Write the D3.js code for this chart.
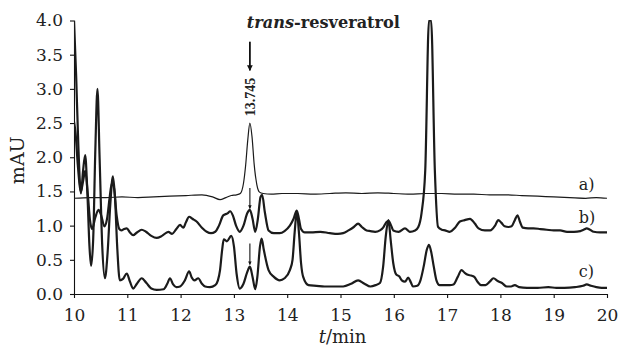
<!DOCTYPE html>
<html>
<head>
<meta charset="utf-8">
<script src="https://cdn.jsdelivr.net/npm/d3@7"></script>
<style>
  html, body { margin: 0; padding: 0; background: #fff; }
  .chart text { font-family: 'DejaVu Serif', serif; fill: #222; }
</style>
</head>
<body>
<div class="chart"></div>
<script>
// retention times (min) and absorbance (mAU)
const timesA = [10.00, 10.30, 10.60, 10.90, 11.20, 11.50, 11.80, 12.10, 12.40, 12.60, 12.74, 12.85, 12.95, 13.05, 13.12,
  13.18, 13.22, 13.26, 13.30, 13.34, 13.38, 13.43, 13.48, 13.55, 13.70, 13.90, 14.20, 14.50, 14.80, 15.10,
  15.40, 15.70, 16.00, 16.30, 16.60, 16.90, 17.20, 17.50, 17.80, 18.10, 18.40, 18.70, 19.00, 19.30, 19.60, 19.80, 20.00];
const valuesA = [1.40, 1.41, 1.41, 1.42, 1.41, 1.42, 1.43, 1.44, 1.45, 1.42, 1.38, 1.41, 1.44, 1.45, 1.47,
  1.62, 1.88, 2.25, 2.50, 2.30, 1.90, 1.60, 1.49, 1.47, 1.46, 1.47, 1.47, 1.46, 1.47, 1.48,
  1.47, 1.48, 1.47, 1.46, 1.47, 1.47, 1.46, 1.46, 1.45, 1.45, 1.44, 1.43, 1.42, 1.41, 1.40, 1.41, 1.40];

const timesB = [10.00, 10.03, 10.07, 10.13, 10.17, 10.21, 10.26, 10.30, 10.34, 10.40, 10.46, 10.51, 10.57, 10.62, 10.67,
  10.71, 10.75, 10.80, 10.85, 10.89, 10.94, 10.99, 11.05, 11.11, 11.18, 11.27, 11.35, 11.45, 11.55, 11.65,
  11.77, 11.84, 11.92, 11.99, 12.05, 12.10, 12.16, 12.22, 12.30, 12.40, 12.49, 12.57, 12.65, 12.72, 12.80,
  12.88, 12.93, 12.98, 13.04, 13.11, 13.18, 13.25, 13.30, 13.35, 13.40, 13.45, 13.50, 13.53, 13.58, 13.65,
  13.75, 13.86, 13.95, 14.05, 14.12, 14.18, 14.22, 14.26, 14.33, 14.45, 14.62, 14.80, 14.95, 15.05, 15.15,
  15.25, 15.33, 15.40, 15.49, 15.56, 15.65, 15.74, 15.80, 15.86, 15.90, 15.95, 15.99, 16.09, 16.21, 16.30,
  16.40, 16.46, 16.52, 16.59, 16.66, 16.70, 16.77, 16.83, 16.90, 16.96, 17.05, 17.15, 17.24, 17.33, 17.43,
  17.52, 17.59, 17.71, 17.81, 17.90, 17.96, 18.02, 18.08, 18.15, 18.21, 18.27, 18.32, 18.37, 18.42, 18.52,
  18.62, 18.75, 18.87, 19.00, 19.12, 19.25, 19.38, 19.50, 19.56, 19.62, 19.68, 19.75, 19.87, 20.00];
const valuesB = [2.52, 2.35, 1.90, 1.50, 1.65, 1.80, 1.45, 1.08, 0.95, 1.12, 1.23, 1.15, 0.99, 1.10, 1.42,
  1.62, 1.55, 1.15, 0.95, 0.93, 0.95, 0.96, 0.90, 0.86, 0.90, 0.94, 0.91, 0.85, 0.82, 0.85,
  0.91, 0.88, 0.95, 1.01, 0.97, 1.05, 1.13, 1.10, 1.06, 0.97, 0.91, 0.89, 0.91, 1.00, 1.15,
  1.18, 1.21, 1.15, 1.00, 0.91, 1.00, 1.18, 1.23, 1.10, 0.91, 1.10, 1.42, 1.45, 1.20, 0.93,
  0.89, 0.89, 0.92, 1.00, 1.10, 1.22, 1.10, 0.95, 0.90, 0.90, 0.91, 0.89, 0.88, 0.89, 0.93,
  0.98, 1.03, 0.98, 0.93, 0.92, 0.91, 0.93, 0.97, 1.05, 1.07, 1.00, 0.93, 0.91, 0.96, 0.91,
  0.93, 0.98, 1.18, 1.81, 4.00, 4.00, 1.81, 0.98, 0.94, 0.93, 0.91, 0.97, 1.06, 1.08, 1.10,
  1.03, 0.96, 0.93, 0.93, 1.00, 1.08, 1.04, 0.99, 0.98, 0.99, 1.08, 1.15, 1.05, 0.97, 0.96,
  0.96, 0.95, 0.94, 0.93, 0.93, 0.91, 0.91, 0.92, 0.94, 0.96, 0.94, 0.91, 0.90, 0.90];

const timesC = [10.00, 10.04, 10.08, 10.13, 10.17, 10.21, 10.25, 10.29, 10.32, 10.36, 10.40, 10.44, 10.48, 10.53, 10.58,
  10.63, 10.68, 10.73, 10.77, 10.81, 10.86, 10.92, 10.99, 11.05, 11.11, 11.18, 11.27, 11.36, 11.45, 11.55,
  11.68, 11.75, 11.80, 11.86, 11.92, 11.99, 12.08, 12.16, 12.21, 12.26, 12.33, 12.40, 12.46, 12.55, 12.65,
  12.70, 12.74, 12.78, 12.81, 12.87, 12.95, 13.00, 13.05, 13.11, 13.18, 13.25, 13.30, 13.35, 13.40, 13.44,
  13.49, 13.52, 13.56, 13.65, 13.75, 13.86, 13.95, 14.05, 14.10, 14.14, 14.18, 14.22, 14.26, 14.30, 14.40,
  14.55, 14.70, 14.85, 15.05, 15.20, 15.33, 15.45, 15.56, 15.66, 15.74, 15.80, 15.85, 15.90, 15.94, 15.99,
  16.05, 16.10, 16.15, 16.21, 16.27, 16.32, 16.36, 16.44, 16.50, 16.56, 16.62, 16.66, 16.70, 16.75, 16.80,
  16.86, 16.95, 17.05, 17.12, 17.20, 17.27, 17.33, 17.39, 17.45, 17.51, 17.57, 17.64, 17.72, 17.80, 17.87,
  17.95, 18.03, 18.12, 18.20, 18.27, 18.35, 18.50, 18.70, 18.90, 19.05, 19.20, 19.40, 19.55, 19.62, 19.70,
  19.80, 19.90, 20.00];
const valuesC = [4.00, 3.20, 2.20, 1.47, 1.80, 2.03, 1.50, 0.70, 0.41, 0.80, 2.10, 3.00, 2.00, 0.70, 0.23,
  0.60, 1.30, 1.72, 1.40, 0.70, 0.20, 0.22, 0.30, 0.18, 0.08, 0.15, 0.23, 0.16, 0.08, 0.06,
  0.07, 0.15, 0.23, 0.14, 0.10, 0.11, 0.20, 0.33, 0.24, 0.20, 0.23, 0.15, 0.11, 0.10, 0.13,
  0.20, 0.35, 0.65, 0.80, 0.77, 0.85, 0.70, 0.30, 0.08, 0.15, 0.32, 0.40, 0.25, 0.07, 0.25,
  0.70, 0.81, 0.65, 0.35, 0.25, 0.20, 0.23, 0.35, 0.50, 0.90, 1.20, 0.90, 0.45, 0.25, 0.13,
  0.12, 0.11, 0.11, 0.11, 0.15, 0.20, 0.15, 0.11, 0.13, 0.16, 0.40, 0.85, 1.08, 0.80, 0.45,
  0.28, 0.26, 0.20, 0.18, 0.24, 0.17, 0.11, 0.12, 0.20, 0.40, 0.65, 0.72, 0.62, 0.40, 0.20,
  0.13, 0.13, 0.13, 0.14, 0.25, 0.35, 0.31, 0.28, 0.27, 0.25, 0.18, 0.13, 0.13, 0.18, 0.23,
  0.19, 0.16, 0.11, 0.11, 0.13, 0.10, 0.09, 0.09, 0.10, 0.09, 0.09, 0.10, 0.12, 0.14, 0.12,
  0.10, 0.09, 0.09];

const xTicks = [10, 11, 12, 13, 14, 15, 16, 17, 18, 19, 20];
const yTicks = [0, 0.5, 1, 1.5, 2, 2.5, 3, 3.5, 4];
const seriesLabels = ['a)', 'b)', 'c)'];
const labelLevels = [1.52, 1.04, 0.25];
const peakTime = 13.3;
const peakLabel = '13.745';

const margin = {top: 20.5, right: 11, bottom: 54, left: 74};
const width = 618 - margin.left - margin.right;
const height = 348 - margin.top - margin.bottom;

const svg = d3.select('.chart')
  .append('svg')
  .attr('width', 618)
  .attr('height', 348)
  .append('g')
  .attr('transform', 'translate(' + margin.left + ', ' + margin.top + ')');

const xScale = d3.scaleLinear().domain([10, 20]).range([0, width]);
const yScale = d3.scaleLinear().domain([0, 4]).range([height, 0]);

svg.append('defs').append('clipPath')
  .attr('id', 'plot')
  .append('rect')
  .attr('x', 0)
  .attr('y', -0.5)
  .attr('width', width + 1)
  .attr('height', height + 0.5);

svg.select('defs').append('marker')
  .attr('id', 'head')
  .attr('viewBox', '0 0 10 10')
  .attr('refX', 9)
  .attr('refY', 5)
  .attr('markerWidth', 3.2)
  .attr('markerHeight', 3.2)
  .attr('markerUnits', 'strokeWidth')
  .attr('orient', 'auto')
  .append('path')
  .attr('d', 'M0,0L10,5L0,10z')
  .attr('fill', '#111');

// axes
const yAxis = d3.axisLeft(yScale)
  .tickValues(yTicks)
  .tickFormat(d3.format('.1f'))
  .tickSize(4)
  .tickSizeOuter(0)
  .tickPadding(7);
svg.append('g').call(yAxis);

const xAxis = d3.axisBottom(xScale)
  .tickValues(xTicks)
  .tickFormat(d3.format('d'))
  .tickSize(4)
  .tickSizeOuter(0)
  .tickPadding(11);
svg.append('g')
  .attr('transform', `translate(0, ${height})`)
  .call(xAxis);

svg.selectAll('.tick text')
  .style('font-family', "'DejaVu Serif', serif")
  .style('font-size', '17px')
  .attr('fill', '#1e1e1e');
svg.selectAll('.domain, .tick line').attr('stroke', '#111').attr('stroke-width', 1.1);

// chromatograms
const line = d3.line()
  .x(d => xScale(d[0]))
  .y(d => yScale(d[1]))
  .curve(d3.curveMonotoneX);

const traces = [
  {t: timesA, v: valuesA, w: 1.2},
  {t: timesB, v: valuesB, w: 2.2},
  {t: timesC, v: valuesC, w: 2.2}
];

svg.append('g')
  .attr('clip-path', 'url(#plot)')
  .selectAll('path')
  .data(traces)
  .enter()
  .append('path')
  .attr('d', d => line(d.t.map((t, i) => [t, d.v[i]])))
  .attr('fill', 'none')
  .attr('stroke', '#1b1b1b')
  .attr('stroke-linejoin', 'round')
  .attr('stroke-width', d => d.w);

// trace labels
svg.selectAll('.lab')
  .data(seriesLabels)
  .enter()
  .append('text')
  .attr('class', 'lab')
  .attr('x', xScale(19.47))
  .attr('y', (d, i) => yScale(labelLevels[i]))
  .style('font-size', '16px')
  .text(d => d);

// arrows at the resveratrol peak
const arrows = [
  {from: 3.69, to: 3.27, w: 1.8},
  {from: 1.55, to: 1.25, w: 1.1},
  {from: 0.74, to: 0.43, w: 1.1}
];
svg.selectAll('.arrow')
  .data(arrows)
  .enter()
  .append('line')
  .attr('class', 'arrow')
  .attr('x1', xScale(peakTime))
  .attr('x2', xScale(peakTime))
  .attr('y1', d => yScale(d.from))
  .attr('y2', d => yScale(d.to))
  .attr('stroke', '#111')
  .attr('stroke-width', d => d.w)
  .attr('marker-end', 'url(#head)');

svg.append('text')
  .attr('transform', `translate(${xScale(peakTime) + 5}, ${yScale(2.88)}) rotate(-90)`)
  .attr('text-anchor', 'middle')
  .style('font-family', "'Liberation Serif', serif")
  .style('font-size', '14px')
  .style('font-weight', 'bold')
  .text(peakLabel);

const title = svg.append('text')
  .attr('x', xScale(peakTime) - 3)
  .attr('y', yScale(3.89))
  .style('font-size', '16px')
  .style('font-weight', 'bold')
  .attr('textLength', 153)
  .attr('lengthAdjust', 'spacingAndGlyphs');
title.append('tspan').style('font-style', 'italic').text('trans');
title.append('tspan').text('-resveratrol');

// axis titles
svg.append('text')
  .attr('transform', `translate(${-margin.left + 24}, ${height / 2 + 3}) rotate(-90)`)
  .attr('text-anchor', 'middle')
  .style('font-size', '19px')
  .text('mAU');

const xTitle = svg.append('text')
  .attr('x', width / 2 + 2)
  .attr('y', height + 49)
  .attr('text-anchor', 'middle')
  .style('font-size', '18px');
xTitle.append('tspan').style('font-style', 'italic').text('t');
xTitle.append('tspan').text('/min');
</script>
</body>
</html>
